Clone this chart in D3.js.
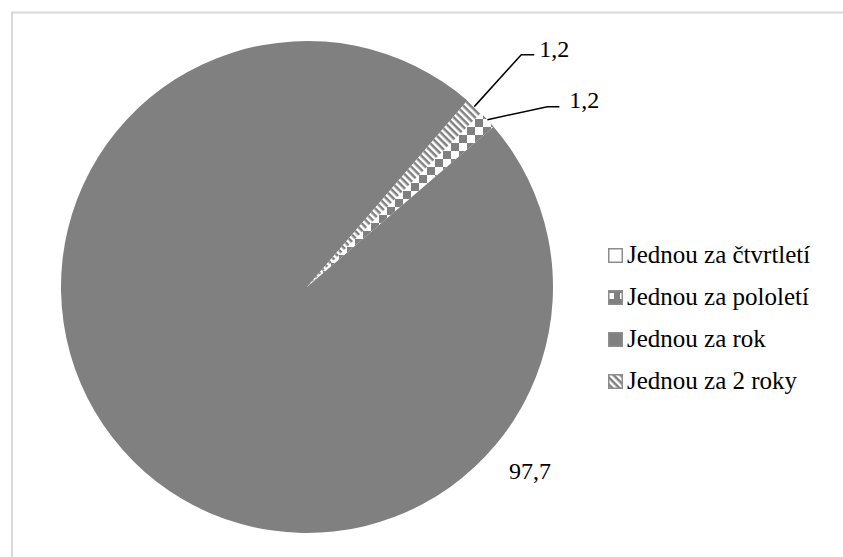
<!DOCTYPE html>
<html>
<head>
<meta charset="utf-8">
<script src="https://cdn.jsdelivr.net/npm/d3@7"></script>
<style>
  html, body { margin: 0; padding: 0; background: #ffffff; }
  svg { display: block; }
</style>
</head>
<body>
<svg id="chart" width="843" height="557"></svg>
<script>
// Frequency categories and their shares (%)
const categories = ["Jednou za čtvrtletí", "Jednou za pololetí", "Jednou za rok", "Jednou za 2 roky"];
const shares = [0, 1.2, 97.7, 1.2];
const valueLabels = ["", "1,2", "97,7", "1,2"];
const fills = ["url(#pat-empty)", "url(#pat-checker)", "#808080", "url(#pat-hatch)"];

const W = 843, H = 557;
const cx = 307, cy = 287, radius = 246;
const firstSliceAngle = 45; // degrees, clockwise from 12 o'clock
const labelFontSize = 24;
const legendFontSize = 25;
const fontFamily = "'Liberation Serif', 'Times New Roman', serif";

const svg = d3.select("#chart");

// Fill patterns
const defs = svg.append("defs");
defs.append("pattern").attr("id", "pat-empty")
  .attr("patternUnits", "userSpaceOnUse").attr("width", 4).attr("height", 4)
  .append("rect").attr("width", 4).attr("height", 4).attr("fill", "#ffffff");

const checker = defs.append("pattern").attr("id", "pat-checker")
  .attr("patternUnits", "userSpaceOnUse").attr("width", 16).attr("height", 16);
checker.append("rect").attr("width", 16).attr("height", 16).attr("fill", "#ffffff");
checker.append("rect").attr("x", 0).attr("y", 0).attr("width", 8).attr("height", 8).attr("fill", "#808080");
checker.append("rect").attr("x", 8).attr("y", 8).attr("width", 8).attr("height", 8).attr("fill", "#808080");

const checkerSmall = defs.append("pattern").attr("id", "pat-checker-small")
  .attr("patternUnits", "userSpaceOnUse").attr("width", 12).attr("height", 12);
checkerSmall.append("rect").attr("width", 12).attr("height", 12).attr("fill", "#808080");
checkerSmall.append("rect").attr("x", 0).attr("y", 0).attr("width", 6).attr("height", 6).attr("fill", "#ffffff");

const hatch = defs.append("pattern").attr("id", "pat-hatch")
  .attr("patternUnits", "userSpaceOnUse").attr("width", 5).attr("height", 5)
  .attr("patternTransform", "rotate(-45)");
hatch.append("rect").attr("width", 5).attr("height", 5).attr("fill", "#808080");
hatch.append("rect").attr("x", 0).attr("width", 2.5).attr("height", 5).attr("fill", "#ffffff");

// Chart area frame
svg.append("rect")
  .attr("x", 12).attr("y", 12.5)
  .attr("width", W + 20).attr("height", H + 20)
  .attr("fill", "none").attr("stroke", "#d9d9d9").attr("stroke-width", 2);

// Pie
const toRad = d => d * Math.PI / 180;
const pie = d3.pie().sort(null).value(d => d)
  .startAngle(toRad(firstSliceAngle))
  .endAngle(toRad(firstSliceAngle) + 2 * Math.PI);
const arcs = pie(shares);
const arc = d3.arc().innerRadius(0).outerRadius(radius);

const g = svg.append("g").attr("transform", `translate(${cx},${cy})`);
g.selectAll("path.slice")
  .data(arcs)
  .join("path")
  .attr("class", "slice")
  .attr("d", arc)
  .attr("fill", (d, i) => fills[i]);

// Point on the pie rim at a slice's mid angle
function rimPoint(d, r) {
  const a = (d.startAngle + d.endAngle) / 2;
  return [r * Math.sin(a), -r * Math.cos(a)];
}

// Data labels for the thin slices, with leader lines (elbow offsets from the rim point)
const leaderLayout = {
  3: { elbow: [47, -52], run: 13, gap: 5, baseline: 2 },
  1: { elbow: [60, -13], run: 12, gap: 10, baseline: 1 }
};
Object.keys(leaderLayout).forEach(k => {
  const i = +k;
  const d = arcs[i];
  const L = leaderLayout[k];
  const p = rimPoint(d, radius);
  const e = [p[0] + L.elbow[0], p[1] + L.elbow[1]];
  const h = [e[0] + L.run, e[1]];
  g.append("path")
    .attr("d", d3.line()([p, e, h]))
    .attr("fill", "none").attr("stroke", "#000").attr("stroke-width", 1.5);
  g.append("text")
    .attr("x", h[0] + L.gap).attr("y", h[1] + L.baseline)
    .attr("font-family", fontFamily)
    .attr("font-size", labelFontSize)
    .attr("fill", "#000")
    .text(valueLabels[i]);
});

// Label for the large slice
g.append("text")
  .attr("x", 202).attr("y", 192)
  .attr("font-family", fontFamily)
  .attr("font-size", labelFontSize)
  .attr("fill", "#000")
  .text(valueLabels[2]);

// Legend
const legendMarks = ["url(#pat-empty)", "url(#pat-checker-small)", "#808080", "url(#pat-hatch)"];
const legend = svg.append("g").attr("transform", "translate(608,263)");
const rowStep = 42;
const rows = legend.selectAll("g.row")
  .data(categories)
  .join("g")
  .attr("class", "row")
  .attr("transform", (d, i) => `translate(0,${i * rowStep})`);
rows.append("rect")
  .attr("x", 0.75).attr("y", -14.25)
  .attr("width", 13.5).attr("height", 13.5)
  .attr("fill", (d, i) => legendMarks[i])
  .attr("stroke", "#8c8c8c").attr("stroke-width", 1.5);
rows.append("text")
  .attr("x", 19).attr("y", 0)
  .attr("font-family", fontFamily)
  .attr("font-size", legendFontSize)
  .attr("fill", "#000")
  .text(d => d);
</script>
</body>
</html>
